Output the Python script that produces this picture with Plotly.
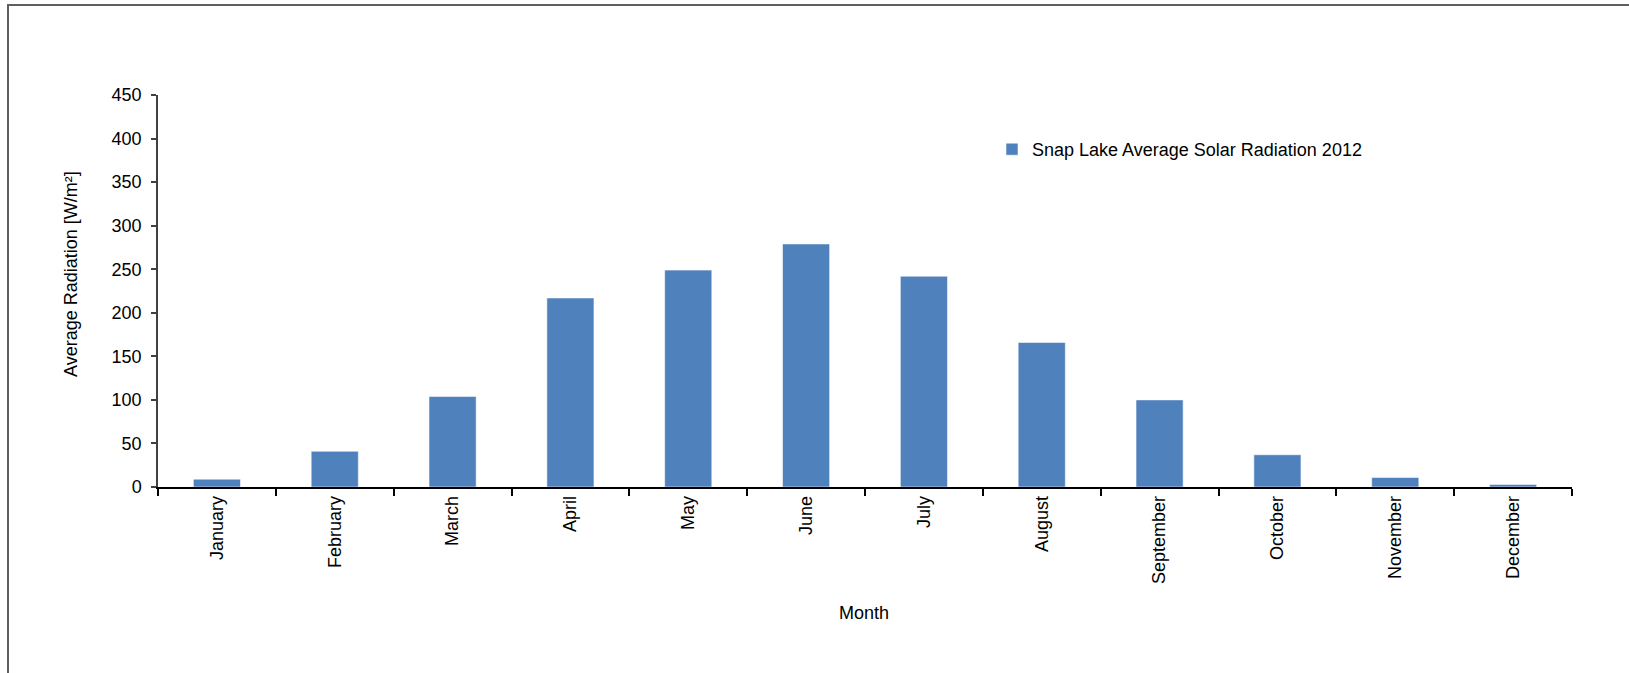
import plotly.graph_objects as go

# Monthly average solar radiation at Snap Lake, 2012
months = ["January", "February", "March", "April", "May", "June",
          "July", "August", "September", "October", "November", "December"]
radiation = [9, 41, 104, 217, 249, 279, 242, 166, 100, 37, 11, 3]
series_name = "Snap Lake Average Solar Radiation 2012"
y_ticks = [0, 50, 100, 150, 200, 250, 300, 350, 400, 450]

W, H = 1629, 673
L, R, T, B = 158, 57, 95, 186
plot_w = W - L - R
plot_h = H - T - B


def px_x(p):
    return (p - L) / plot_w


def px_y(p):
    return (H - B - p) / plot_h


font = dict(family="Liberation Sans, Arial, sans-serif", size=18, color="#000000")

fig = go.Figure()
fig.add_trace(go.Bar(
    x=months,
    y=radiation,
    name=series_name,
    width=0.4,
    marker=dict(color="#4F81BD", line=dict(color="rgba(255,255,255,0.55)", width=1)),
    showlegend=True,
))

fig.update_layout(
    width=W,
    height=H,
    autosize=False,
    margin=dict(l=L, r=R, t=T, b=B),
    paper_bgcolor="#ffffff",
    plot_bgcolor="#ffffff",
    font=font,
    showlegend=True,
    legend=dict(
        x=px_x(992), y=px_y(131), xanchor="left", yanchor="top",
        bgcolor="rgba(0,0,0,0)", font=font, itemwidth=30,
    ),
    xaxis=dict(
        type="category",
        showline=True, linecolor="#000000", linewidth=1.5,
        ticks="outside", ticklen=7, tickcolor="#000000", tickwidth=1.5,
        tickson="boundaries",
        tickangle=-90,
        showgrid=False, zeroline=False,
        tickfont=font,
    ),
    yaxis=dict(
        range=[0, 450],
        tickvals=y_ticks,
        showline=True, linecolor="#404040", linewidth=1.5,
        ticks="outside", ticklen=5, tickcolor="#404040", tickwidth=1.5,
        ticklabelstandoff=6,
        showgrid=False, zeroline=False,
        tickfont=font,
    ),
    annotations=[
        dict(text="Average Radiation [W/m²]", xref="paper", yref="paper",
             x=px_x(71), y=px_y(274), xanchor="center", yanchor="middle",
             textangle=-90, showarrow=False, font=font),
        dict(text="Month", xref="paper", yref="paper",
             x=px_x(864), y=px_y(613), xanchor="center", yanchor="middle",
             showarrow=False, font=font),
    ],
    shapes=[
        # outer chart frame: top and left edges as one open path
        dict(type="path", xref="paper", yref="paper",
             path=(f"M {px_x(8)},{px_y(H + 10)} L {px_x(8)},{px_y(5)} "
                   f"L {px_x(W + 10)},{px_y(5)}"),
             line=dict(color="#5f5f5f", width=2)),
    ],
)

fig.write_html("out.html")
